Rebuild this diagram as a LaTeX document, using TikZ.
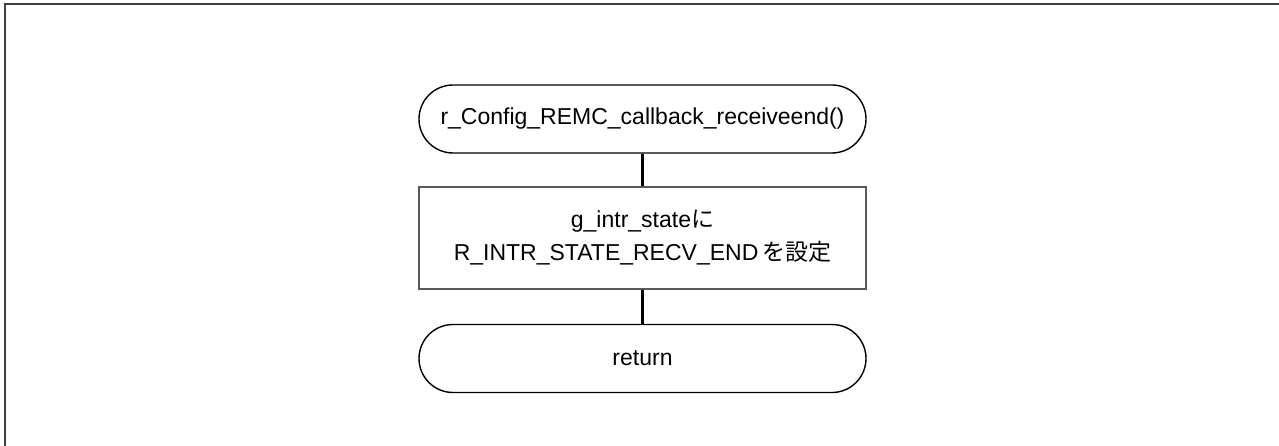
\documentclass[tikz,border=0pt]{standalone}
\usepackage{fontspec}
\setmainfont{Liberation Sans}
\newfontfamily\jpfont{Noto Sans CJK JP}
\begin{document}
\begin{tikzpicture}[x=1pt,y=-1pt,
  term/.style={draw=black,line width=1.4pt,rounded corners=34pt,minimum width=447pt,minimum height=68pt,inner sep=0pt,font=\fontsize{23}{33}\selectfont},
  procbox/.style={draw=black!65,line width=1.4pt,minimum width=447pt,minimum height=102pt,inner sep=0pt,align=center,font=\fontsize{23}{33}\selectfont},
  conn/.style={draw=black,line width=2.2pt}]
\useasboundingbox (0,0) rectangle (1279,446);
\draw[line width=2pt,black!75] (5,446) -- (5,4) -- (1279,4);
\node[term] (start) at (642.5,119) {r\_Config\_REMC\_callback\_receiveend()};
\node[procbox] (set) at (642.5,238) {g\_intr\_state{\jpfont に}\\R\_INTR\_STATE\_RECV\_END\,{\jpfont を設定}};
\node[term] (ret) at (642.5,358.5) {return};
\draw[conn] (start) -- (set);
\draw[conn] (set) -- (ret);
\end{tikzpicture}
\end{document}
